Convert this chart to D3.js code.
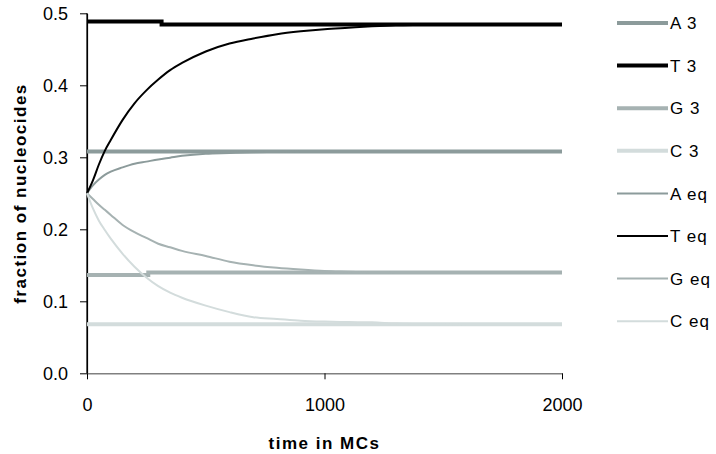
<!DOCTYPE html>
<html><head><meta charset="utf-8">
<script src="https://cdn.jsdelivr.net/npm/d3@7"></script>
<style>
body{margin:0;background:#fff;}
svg{display:block;font-family:Arial,"Liberation Sans",sans-serif;}
</style></head><body>
<svg id="c" width="716" height="454"></svg>
<script>
// ---- data ----
const eqTimes = [0,25,50,75,100,150,200,250,300,350,400,500,600,700,800,900,1000,1100,1200,1300,1400,1600,1800,2000];
const Aeq = [0.250,0.261,0.269,0.2755,0.280,0.286,0.291,0.294,0.297,0.2995,0.302,0.305,0.306,0.307,0.3075,0.308,0.308,0.308,0.308,0.308,0.308,0.308,0.308,0.308];
const Teq = [0.250,0.268,0.290,0.309,0.324,0.352,0.375,0.393,0.408,0.421,0.431,0.447,0.458,0.465,0.471,0.475,0.478,0.480,0.482,0.4835,0.484,0.4845,0.4845,0.4845];
const Geq = [0.250,0.242,0.234,0.227,0.220,0.206,0.196,0.188,0.180,0.175,0.170,0.163,0.155,0.150,0.1465,0.144,0.142,0.141,0.140,0.1398,0.1398,0.1398,0.1398,0.1398];
const Ceq = [0.250,0.229,0.212,0.199,0.187,0.166,0.148,0.133,0.121,0.112,0.105,0.094,0.085,0.078,0.0755,0.073,0.0718,0.0712,0.0708,0.069,0.0685,0.068,0.068,0.068];

const A3Times = [0,2000], A3 = [0.308,0.308];
const T3Times = [0,314,2000], T3 = [0.4885,0.4845,0.4845];
const G3Times = [0,258,2000], G3 = [0.1365,0.1400,0.1400];
const C3Times = [0,2000], C3 = [0.068,0.068];

const xTicks = [0,1000,2000];
const yTicks = [0,0.1,0.2,0.3,0.4,0.5];
const legendLabels = ["A 3","T 3","G 3","C 3","A eq","T eq","G eq","C eq"];

// ---- styles ----
const colA = "#8c9b9b", colT = "#000000", colG = "#a6b2b2", colC = "#d3dcdc";
const series = [
  {name:"A 3", t:A3Times, v:A3, color:colA, w:4, step:true},
  {name:"T 3", t:T3Times, v:T3, color:colT, w:4, step:true},
  {name:"G 3", t:G3Times, v:G3, color:colG, w:4, step:true},
  {name:"C 3", t:C3Times, v:C3, color:colC, w:4, step:true},
  {name:"A eq", t:eqTimes, v:Aeq, color:colA, w:2, step:false},
  {name:"T eq", t:eqTimes, v:Teq, color:colT, w:2, step:false},
  {name:"G eq", t:eqTimes, v:Geq, color:colG, w:2, step:false},
  {name:"C eq", t:eqTimes, v:Ceq, color:colC, w:2, step:false}
];

const svg = d3.select("#c");
const x = d3.scaleLinear().domain([0,2000]).range([87,562]);
const y = d3.scaleLinear().domain([0,0.5]).range([373.3,13.3]);

// axes
const yAxis = svg.append("g").attr("transform","translate(87,0)")
  .call(d3.axisLeft(y).tickValues(yTicks).tickFormat(d3.format(".1f")).tickSize(7).tickSizeOuter(0).tickPadding(12));
yAxis.select(".domain").attr("stroke","#000").attr("stroke-width",1.2);
yAxis.selectAll(".tick line").attr("stroke","#000").attr("stroke-width",1);
yAxis.selectAll("text").attr("font-size",18).attr("fill","#000").attr("font-family","Arial,'Liberation Sans',sans-serif");

const xAxis = svg.append("g").attr("transform","translate(0,373.3)")
  .call(d3.axisBottom(x).tickValues(xTicks).tickFormat(d3.format("d")).tickSize(6).tickSizeOuter(0).tickPadding(19));
xAxis.select(".domain").attr("stroke","#808080").attr("stroke-width",1.5);
xAxis.selectAll(".tick line").attr("stroke","#000").attr("stroke-width",1);
xAxis.selectAll("text").attr("font-size",18).attr("fill","#000").attr("font-family","Arial,'Liberation Sans',sans-serif");
svg.append("line").attr("x1",87).attr("x2",87).attr("y1",y(0.5)).attr("y2",y(0)).attr("stroke","#000").attr("stroke-width",1.2);

// lines
const plot = svg.append("g");
series.forEach(s=>{
  const pts = s.t.map((t,i)=>[t,s.v[i]]);
  const line = d3.line().x(d=>x(d[0])).y(d=>y(d[1])).curve(s.step?d3.curveStepAfter:d3.curveMonotoneX);
  plot.append("path").datum(pts).attr("d",line).attr("fill","none")
    .attr("stroke",s.color).attr("stroke-width",s.w);
});

// legend
const lg = svg.append("g");
series.forEach((s,i)=>{
  const yy = 23 + i*42.6;
  lg.append("line").attr("x1",617).attr("x2",668).attr("y1",yy).attr("y2",yy)
    .attr("stroke",s.color).attr("stroke-width",s.w);
  lg.append("text").attr("x",670).attr("y",yy).attr("dy","0.36em")
    .attr("font-size",17).attr("letter-spacing","1px").text(legendLabels[i]);
});

// titles
svg.append("text").attr("x",324.5).attr("y",449).attr("text-anchor","middle")
  .attr("font-size",17).attr("font-weight","bold").attr("letter-spacing","1.5px").text("time in MCs");
svg.append("text").attr("transform","translate(26,193.5) rotate(-90)").attr("text-anchor","middle")
  .attr("font-size",17).attr("font-weight","bold").attr("letter-spacing","1.5px").text("fraction of nucleocides");
</script>
</body></html>
